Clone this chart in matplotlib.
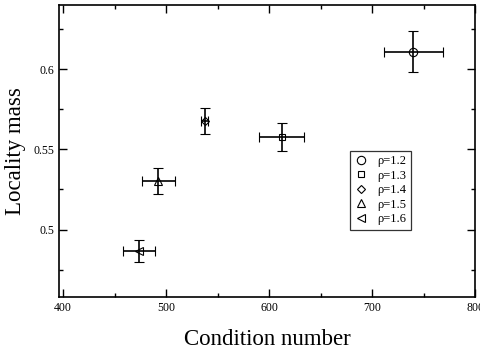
import matplotlib
matplotlib.use("Agg")
import matplotlib.pyplot as plt
from matplotlib.lines import Line2D
from matplotlib.ticker import MultipleLocator

plt.rcParams['font.family'] = ['Liberation Serif', 'DejaVu Serif']

# data
labels = ["\u03c1=1.2", "\u03c1=1.3", "\u03c1=1.4", "\u03c1=1.5", "\u03c1=1.6"]
cond = [740, 612, 537.5, 492.5, 474]
cond_err = [29, 21.5, 3.5, 16, 15.5]
mass = [0.6108, 0.5578, 0.5676, 0.5302, 0.4869]
mass_err = [0.0127, 0.0086, 0.0083, 0.0079, 0.0068]
markers = ["o", "s", "D", "^", "<"]
msizes = [6, 5, 4.5, 6, 6]

fig = plt.figure(figsize=(4.8, 3.54), dpi=100)
ax = fig.add_axes([0.123, 0.161, 0.867, 0.825])

handles = []
for i in range(len(labels)):
    ax.errorbar(cond[i], mass[i], xerr=cond_err[i], yerr=mass_err[i],
                fmt=markers[i], mfc="none", mec="black", ms=msizes[i], mew=0.8,
                ecolor="black", elinewidth=1.2, capsize=3.5, capthick=1.2)
    handles.append(Line2D([], [], ls="none", marker=markers[i], mfc="none",
                          mec="black", ms=msizes[i], mew=0.8, label=labels[i]))

ax.set_xlim(396, 800)
ax.set_ylim(0.458, 0.64)
ax.xaxis.set_major_locator(MultipleLocator(100))
ax.xaxis.set_minor_locator(MultipleLocator(50))
ax.yaxis.set_minor_locator(MultipleLocator(0.025))
ax.set_yticks([0.5, 0.55, 0.6])
ax.set_yticklabels(["0.5", "0.55", "0.6"])
ax.tick_params(which="both", direction="in", top=True, right=True, labelsize=8.5, width=1)
ax.tick_params(which="major", length=6)
ax.tick_params(which="minor", length=3)
for s in ax.spines.values():
    s.set_linewidth(1.2)

ax.set_xlabel("Condition number", fontsize=16.5, labelpad=11)
ax.set_ylabel("Locality mass", fontsize=16.5, labelpad=5)

leg = ax.legend(handles=handles, loc="upper left", bbox_to_anchor=(0.70, 0.5),
                fontsize=9, frameon=True, fancybox=False, edgecolor="black",
                handlelength=1.0, handletextpad=0.8, borderpad=0.35,
                labelspacing=0.2, borderaxespad=0)
leg.get_frame().set_linewidth(0.9)

fig.savefig("out.png", dpi=100)
